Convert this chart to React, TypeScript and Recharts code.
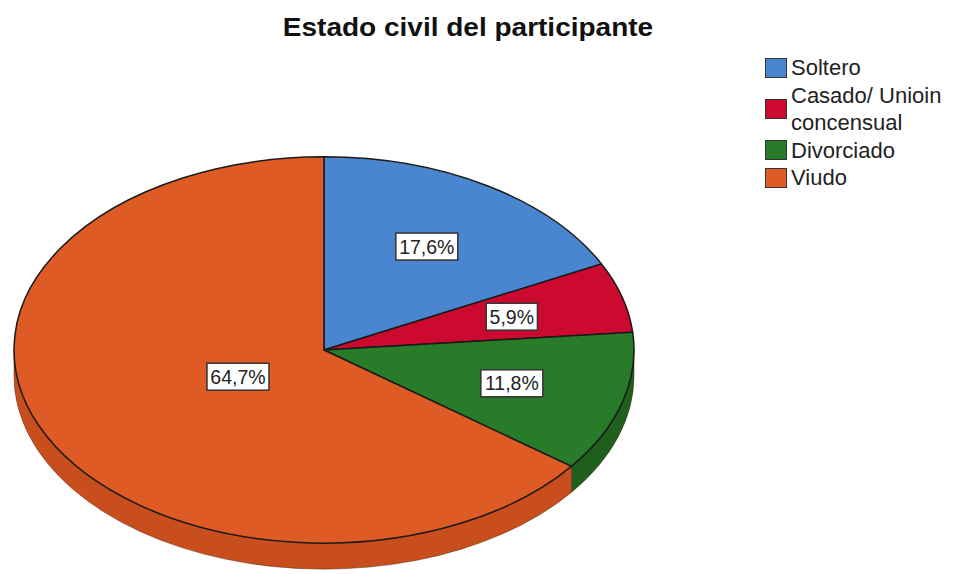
import React from 'react';
import { PieChart, Pie, Cell, Legend } from 'recharts';

const CATEGORIES = ['Soltero', 'Casado/ Unioin concensual', 'Divorciado', 'Viudo'];
const COUNTS = [3, 1, 2, 11];
const TITLE = 'Estado civil del participante';

const COLORS = ['#4a86cf', '#cc0a30', '#287b28', '#df5b25'];
const SIDE_COLORS = ['#3a6aa8', '#a00826', '#1f601f', '#c94e1d'];

const data = CATEGORIES.map((name, i) => ({ name, value: COUNTS[i] }));

const RAD = Math.PI / 180;
const K = 0.623; // vertical squash of the tilted pie
const DEPTH = 26;

const pt = (cx: number, cy: number, rx: number, ry: number, a: number) =>
  [cx + rx * Math.cos(a * RAD), cy - ry * Math.sin(a * RAD)];

const EllipseSector = (props: any) => {
  const { cx, cy, outerRadius, startAngle, endAngle, fill } = props;
  const rx = outerRadius;
  const ry = outerRadius * K;
  const s = Math.max(startAngle, endAngle);
  const e = Math.min(startAngle, endAngle);
  const p1 = pt(cx, cy, rx, ry, s);
  const p2 = pt(cx, cy, rx, ry, e);
  const large = s - e > 180 ? 1 : 0;
  const top = `M${cx},${cy} L${p1[0]},${p1[1]} A${rx},${ry} 0 ${large} 1 ${p2[0]},${p2[1]} Z`;
  const idx = COLORS.indexOf(fill);
  const sideFill = idx >= 0 ? SIDE_COLORS[idx] : fill;
  let side = null;
  const hi = Math.min(s, 0);
  const lo = Math.max(e, -180);
  if (hi > lo) {
    const a = pt(cx, cy, rx, ry, hi);
    const b = pt(cx, cy, rx, ry, lo);
    const d = `M${a[0]},${a[1]} A${rx},${ry} 0 0 1 ${b[0]},${b[1]} L${b[0]},${b[1] + DEPTH} A${rx},${ry} 0 0 0 ${a[0]},${a[1] + DEPTH} Z`;
    side = <path d={d} fill={sideFill} stroke="#5a2a10" strokeOpacity={0.5} strokeWidth={1} />;
  }
  return (
    <g>
      {side}
      <path d={top} fill={fill} stroke="#1a1a1a" strokeWidth={1.5} strokeLinejoin="round" />
    </g>
  );
};

const renderLabel = (props: any) => {
  const { cx, cy, midAngle, outerRadius, percent } = props;
  const f = percent > 0.5 ? 0.31 : 0.63;
  const [x, y] = pt(cx, cy, outerRadius * f, outerRadius * K * f, midAngle);
  const txt = (percent * 100).toFixed(1).replace('.', ',') + '%';
  const w = txt.length * 10.8 + 8;
  const h = 27;
  return (
    <g>
      <rect x={x - w / 2} y={y - h / 2} width={w} height={h} fill="#ffffff" stroke="#333333" strokeWidth={1.5} />
      <text x={x} y={y + 7} textAnchor="middle" fontSize={19.5} fontFamily="'Liberation Sans', Arial, sans-serif" fill="#222">
        {txt}
      </text>
    </g>
  );
};

const renderLegend = (props: any) => {
  const payload = [...(props.payload || [])].sort(
    (a: any, b: any) => CATEGORIES.indexOf(a.value) - CATEGORIES.indexOf(b.value)
  );
  return (
    <div style={{ fontFamily: "'Liberation Sans', Arial, sans-serif", fontSize: 22, lineHeight: '27.5px', color: '#222' }}>
      {payload.map((p: any, i: number) => (
        <div key={i} style={{ display: 'flex', alignItems: 'center' }}>
          <div style={{ width: 22, height: 20, background: p.color, border: '1px solid #333', boxSizing: 'border-box', flex: '0 0 auto', marginRight: 4 }} />
          <div style={{ width: 160 }}>{p.value}</div>
        </div>
      ))}
    </div>
  );
};

export default function App() {
  return (
    <div style={{ position: 'absolute', left: 0, top: 0, width: 954, height: 574, background: '#fff' }}>
      <div style={{ position: 'absolute', left: 0, top: 12, width: 936, textAlign: 'center', fontFamily: "'Liberation Sans', Arial, sans-serif", fontWeight: 'bold', fontSize: 25, lineHeight: '30px', color: '#111', transform: 'scaleX(1.12)', transformOrigin: '468px 0' }}>
        {TITLE}
      </div>
      <PieChart width={954} height={574} margin={{ top: 0, right: 0, bottom: 0, left: 0 }} style={{ position: 'absolute', left: 0, top: 0 }}>
        <Pie
          data={data}
          dataKey="value"
          nameKey="name"
          cx={324}
          cy={350}
          outerRadius={310}
          startAngle={90}
          endAngle={-270}
          isAnimationActive={false}
          shape={EllipseSector}
          label={renderLabel}
          labelLine={false}
        >
          {data.map((d, i) => (
            <Cell key={d.name} fill={COLORS[i]} />
          ))}
        </Pie>
        <Legend
          content={renderLegend}
          wrapperStyle={{ position: 'absolute', left: 765, top: 54, width: 189 }}
        />
      </PieChart>
    </div>
  );
}
